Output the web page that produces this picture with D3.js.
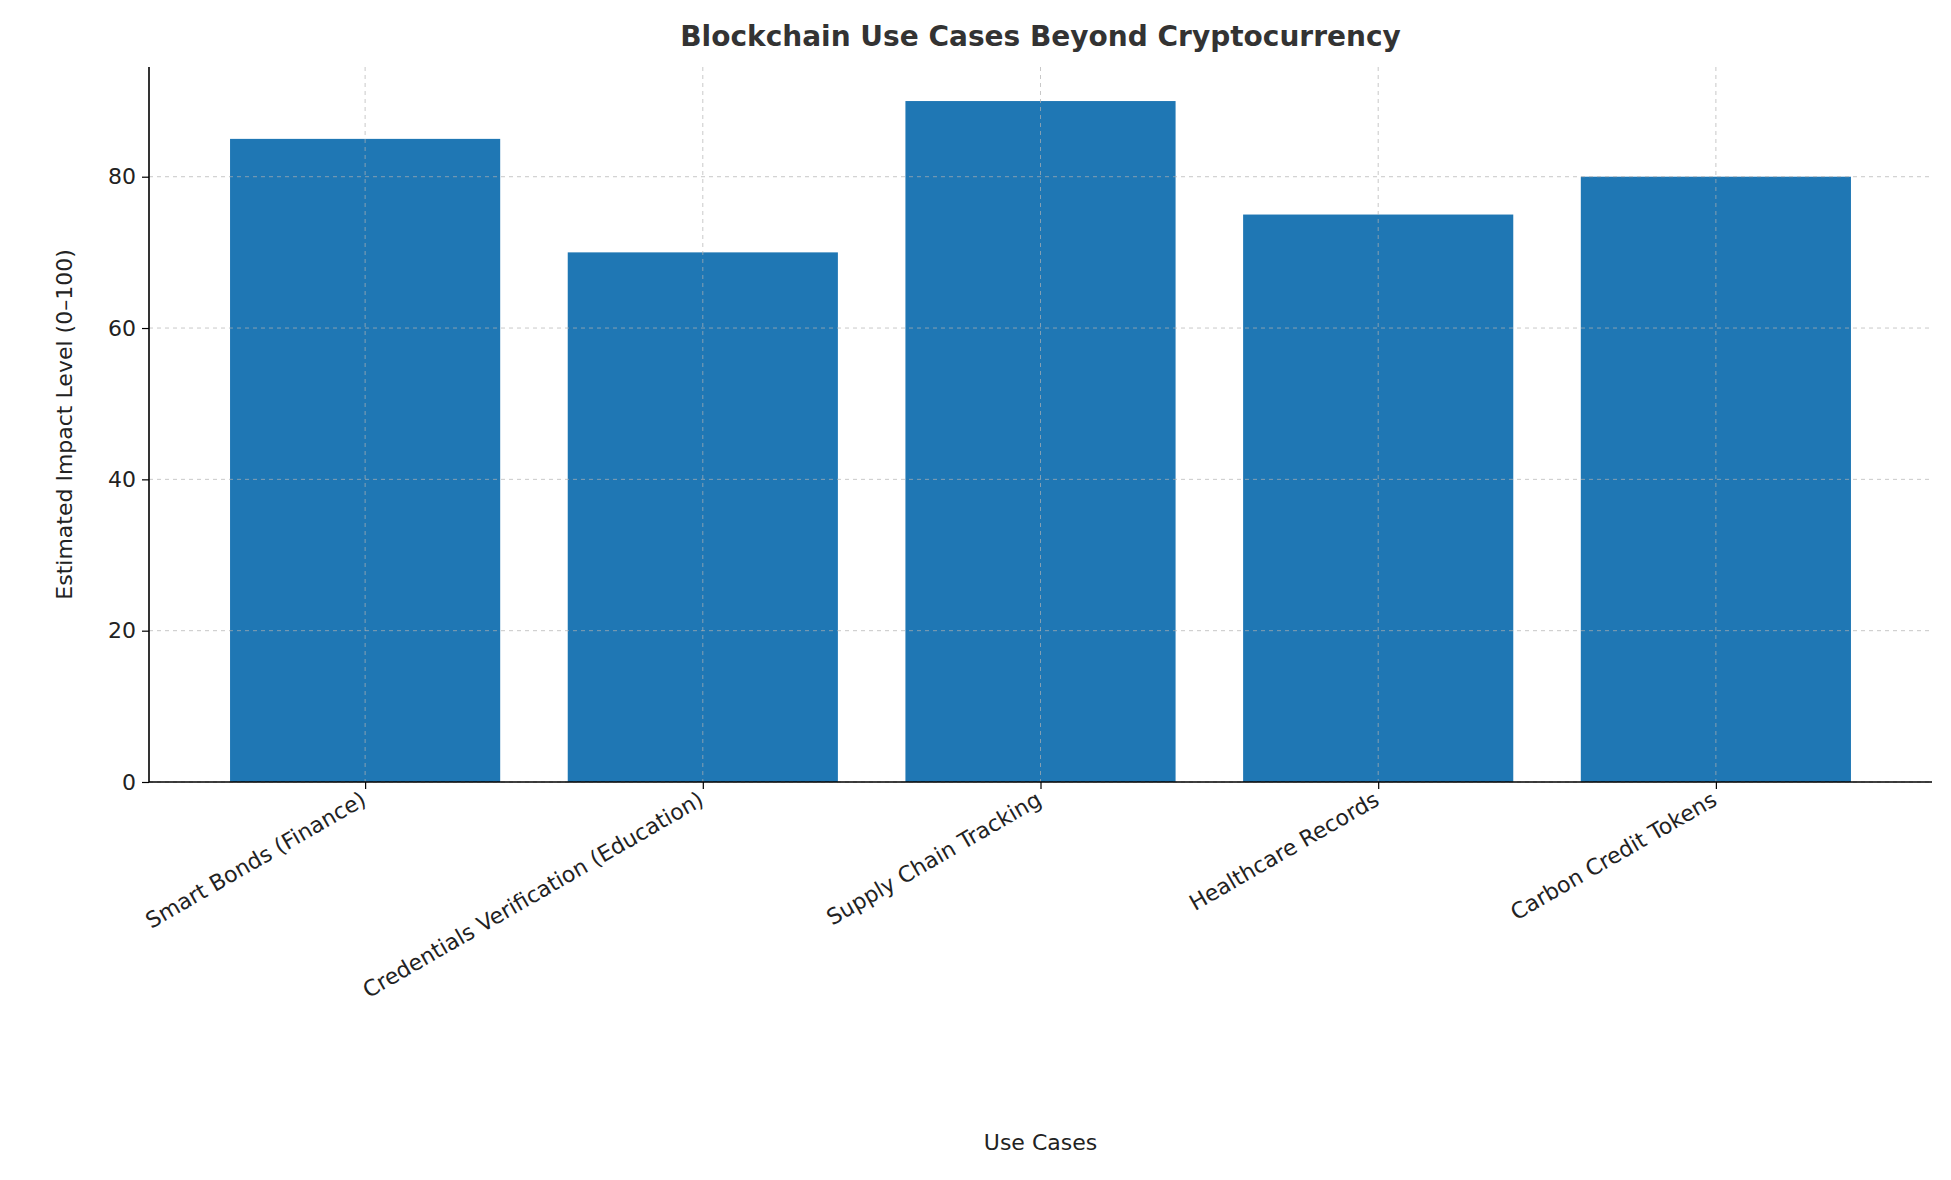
<!DOCTYPE html>
<html><head><meta charset="utf-8">
<script src="https://cdn.jsdelivr.net/npm/d3@7"></script>
<style>body{margin:0;background:#fff}text{font-family:"DejaVu Sans",sans-serif}</style>
</head><body><svg id="c" width="1951" height="1180"></svg>
<script>
const categories=["Smart Bonds (Finance)","Credentials Verification (Education)","Supply Chain Tracking","Healthcare Records","Carbon Credit Tokens"];
const values=[85,70,90,75,80];
const yTicks=[0,20,40,60,80];

const svg=d3.select("#c");
const L=149,R=1932,T=67,B=782;
const x=d3.scaleLinear().domain([-0.64,4.64]).range([L,R]);
const y=d3.scaleLinear().domain([0,94.5]).range([B,T]);
const bw=x(0.4)-x(-0.4);

// bars
svg.selectAll("rect.bar").data(values).enter().append("rect")
 .attr("x",(d,i)=>x(i)-bw/2).attr("width",bw)
 .attr("y",d=>y(d)).attr("height",d=>B-y(d)).attr("fill","#1f77b4");

// grid
const g=svg.append("g");
yTicks.forEach(t=>g.append("line").attr("x1",L).attr("x2",R).attr("y1",y(t)).attr("y2",y(t))
 .attr("stroke","#b0b0b0").attr("stroke-opacity",0.7).attr("stroke-dasharray","4,4"));
categories.forEach((c,i)=>g.append("line").attr("x1",x(i)).attr("x2",x(i)).attr("y1",T).attr("y2",B)
 .attr("stroke","#b0b0b0").attr("stroke-opacity",0.7).attr("stroke-dasharray","4,4"));

// axes
const ya=svg.append("g").attr("transform",`translate(${L},0)`)
 .call(d3.axisLeft(y).tickValues(yTicks).tickSize(7).tickPadding(6));
const xa=svg.append("g").attr("transform",`translate(0,${B})`)
 .call(d3.axisBottom(x).tickValues(d3.range(categories.length)).tickFormat(i=>categories[i]).tickSize(7).tickPadding(6));
[ya,xa].forEach(a=>{a.select(".domain").attr("stroke","#000").attr("stroke-width",1.6);
 a.selectAll(".tick line").attr("stroke","#000").attr("stroke-width",1.2);
 a.selectAll("text").attr("font-size",22).attr("fill","#222").attr("font-family","DejaVu Sans");});
ya.select(".domain").attr("d",`M0,${B}V${T}`);
xa.select(".domain").attr("d",`M${L},0H${R}`);
xa.selectAll(".tick text").attr("text-anchor","end").attr("dy",null).attr("y",0)
 .attr("transform","translate(2,22) rotate(-30)");

svg.append("text").attr("x",(L+R)/2).attr("y",46).attr("text-anchor","middle")
 .attr("font-size",28).attr("font-weight","bold").attr("fill","#333").text("Blockchain Use Cases Beyond Cryptocurrency");
svg.append("text").attr("x",(L+R)/2).attr("y",1150).attr("text-anchor","middle")
 .attr("font-size",22).attr("fill","#222").text("Use Cases");
svg.append("text").attr("transform",`translate(72,${(T+B)/2}) rotate(-90)`).attr("text-anchor","middle")
 .attr("font-size",22).attr("fill","#222").text("Estimated Impact Level (0–100)");
</script></body></html>
